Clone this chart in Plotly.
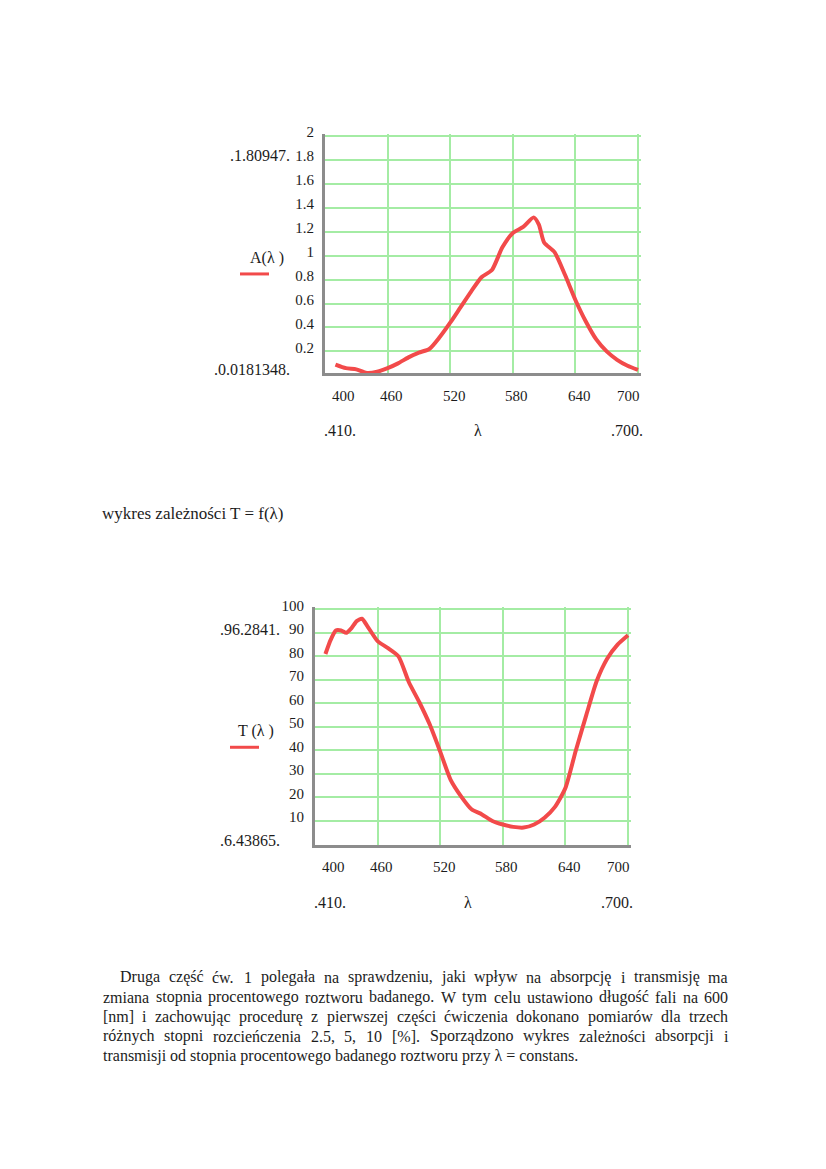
"""
Scanned report page: two Mathcad-style spectra (absorbance and transmission)
with a heading and a paragraph of Polish text.
"""
import plotly.graph_objects as go

PAGE_W, PAGE_H = 826, 1169

# ── Data ────────────────────────────────────────────────────────────────────
WL_A = [410, 420, 430, 440, 450, 460, 470, 480, 490, 500, 510, 520, 530, 540,
        550, 560, 570, 580, 590, 600, 605, 610, 620, 630, 640, 650, 660, 670,
        680, 690, 700]
A_VALUES = [0.09, 0.06, 0.05, 0.02, 0.03, 0.06, 0.10, 0.15, 0.19, 0.22, 0.32,
            0.44, 0.57, 0.70, 0.82, 0.88, 1.07, 1.19, 1.24, 1.32, 1.26, 1.11,
            1.03, 0.84, 0.63, 0.45, 0.30, 0.20, 0.13, 0.08, 0.045]

WL_T = [410, 415, 420, 425, 430, 435, 440, 445, 450, 460, 470, 480, 490, 500,
        510, 520, 530, 540, 550, 560, 570, 580, 590, 600, 610, 620, 630, 640,
        650, 660, 670, 680, 690, 700]
T_VALUES = [81, 87, 91, 91, 90, 92, 95, 96, 93, 86.5, 83.5, 80, 69, 60.5, 51,
            39.5, 27.5, 20.5, 15, 12.8, 10, 8.5, 7.5, 7.2, 8.5, 11.4, 16, 24,
            40, 55, 69.5, 79, 85, 89]

X_TICKS = [400, 460, 520, 580, 640, 700]
A_TICKS = [0.2, 0.4, 0.6, 0.8, 1.0, 1.2, 1.4, 1.6, 1.8, 2.0]
A_TICK_TEXT = ["0.2", "0.4", "0.6", "0.8", "1", "1.2", "1.4", "1.6", "1.8", "2"]
T_TICKS = [10, 20, 30, 40, 50, 60, 70, 80, 90, 100]
T_TICK_TEXT = ["10", "20", "30", "40", "50", "60", "70", "80", "90", "100"]

X_RANGE = [400, 700]
A_RANGE = [0.0181348, 2.0]
T_RANGE = [0, 100]

A_LIMITS = [".1.80947.", ".0.0181348."]
T_LIMITS = [".96.2841.", ".6.43865."]
X_LIMITS = [".410.", "λ", ".700."]

HEADING = "wykres zależności T = f(λ)"
PARAGRAPH = [
    "Druga część ćw. 1 polegała na sprawdzeniu, jaki wpływ na absorpcję i transmisję ma",
    "zmiana stopnia procentowego roztworu badanego. W tym celu ustawiono długość fali na 600",
    "[nm] i zachowując procedurę z pierwszej części ćwiczenia dokonano pomiarów dla trzech",
    "różnych stopni rozcieńczenia 2.5, 5, 10 [%]. Sporządzono wykres zależności absorpcji i",
    "transmisji od stopnia procentowego badanego roztworu przy λ = constans.",
]

# ── Style ───────────────────────────────────────────────────────────────────
CURVE = "#f24a4a"
GRID = "#a4eca4"
AXIS = "#8c8c8c"
INK = "#1c1c1c"
FONT = "Liberation Serif"
BODY_SIZE = 16
EDGE_PAD = 0.01   # fraction of the span added past the last grid line so it is drawn

# rough Times / Liberation Serif advance widths (em) used to justify text
_NARROW = {"i": .278, "j": .278, "l": .278, "t": .278, "ł": .278, "f": .333,
           "r": .333, "s": .389, "ś": .389, ".": .25, ",": .25, "[": .333,
           "]": .333, "(": .333, ")": .333, "a": .444, "c": .444, "e": .444,
           "z": .444, "ą": .444, "ć": .444, "ę": .444, "ż": .444, "ź": .444,
           "m": .778, "w": .722, "%": .833, "=": .564, "D": .722, "W": .944,
           "S": .556, "T": .611}


def text_width(s, size):
    return sum(_NARROW.get(c, 0.5) for c in s) * size


def px(x):
    return x / PAGE_W


def py(y):
    return 1 - y / PAGE_H


def padded(rng):
    return [rng[0], rng[1] + (rng[1] - rng[0]) * EDGE_PAD]


def add_chart(fig, n, wl, vals, yticks, ytext, yrange, box, label, limits):
    """box = (left, top, right, bottom) in page pixels (grid frame)."""
    left, top, right, bottom = box
    # stretch the domain so the padded range keeps the frame on the box
    right_d = left + (right - left) * (1 + EDGE_PAD)
    top_d = bottom - (bottom - top) * (1 + EDGE_PAD)
    sfx = "" if n == 1 else str(n)
    xa, ya = "x" + sfx, "y" + sfx

    fig.add_trace(go.Scatter(
        x=wl, y=vals, mode="lines", xaxis=xa, yaxis=ya,
        line=dict(color=CURVE, width=4, shape="spline", smoothing=0.6),
        showlegend=False, hoverinfo="x+y",
    ))

    common = dict(showgrid=True, gridcolor=GRID, gridwidth=2, zeroline=False,
                  showline=True, linecolor=AXIS, linewidth=3, ticks="")
    fig.update_layout(**{
        "xaxis" + sfx: dict(
            common, domain=[px(left), px(right_d)], anchor=ya,
            range=padded(X_RANGE), tickvals=X_TICKS, showticklabels=False,
        ),
        "yaxis" + sfx: dict(
            common, domain=[py(bottom), py(top_d)], anchor=xa,
            range=padded(yrange), tickvals=yticks, ticktext=ytext,
            tickfont=dict(family=FONT, size=15, color=INK),
            ticklabelstandoff=5, ticklabelshift=-4,
        ),
    })

    def note(x, y, text, size, anchor="right", **kw):
        fig.add_annotation(xref=kw.pop("xref", "paper"), yref="paper", x=x,
                           y=y, text=text, showarrow=False, xanchor=anchor,
                           yanchor="middle",
                           font=dict(family=FONT, size=size, color=INK), **kw)

    # axis-limit markers and trace label on the left
    note(px(left - 33), py(top + 20), limits[0], 16)
    note(px(left - 33), py(bottom - 4), limits[1], 16)
    note(px(left - 39), py(top + 123), label, 16)
    fig.add_shape(type="line", xref="paper", yref="paper",
                  x0=px(left - 85), x1=px(left - 56),
                  y0=py(top + 139), y1=py(top + 139),
                  line=dict(color=CURVE, width=3))

    # x tick labels (edge labels pulled inside as in Mathcad)
    for v in X_TICKS:
        shift = 18 if v == X_TICKS[0] else (-10 if v == X_TICKS[-1] else 4)
        note(v, py(bottom + 23), str(v), 15, anchor="center", xref=xa,
             xshift=shift)

    # x limit row
    centre = (left + right) / 2
    for xp, txt in zip([left + 15, centre - 4, right - 11], X_LIMITS):
        note(px(xp), py(bottom + 58), txt, 16, anchor="center")


def add_line(fig, text, x0, x1, y, justify):
    font = dict(family=FONT, size=BODY_SIZE, color=INK)
    words = text.split(" ")
    if not justify or len(words) < 2:
        fig.add_annotation(xref="paper", yref="paper", x=px(x0), y=py(y),
                           xanchor="left", yanchor="middle", showarrow=False,
                           text=text, font=font)
        return
    widths = [text_width(w, BODY_SIZE) for w in words]
    gap = (x1 - x0 - sum(widths)) / (len(words) - 1)
    x = x0
    for w, wd in zip(words, widths):
        fig.add_annotation(xref="paper", yref="paper", x=px(x), y=py(y),
                           xanchor="left", yanchor="middle", showarrow=False,
                           text=w, font=font)
        x += wd + gap


fig = go.Figure()
add_chart(fig, 1, WL_A, A_VALUES, A_TICKS, A_TICK_TEXT, A_RANGE,
          (325, 128, 638, 367), "A(λ )", A_LIMITS)
add_chart(fig, 2, WL_T, T_VALUES, T_TICKS, T_TICK_TEXT, T_RANGE,
          (315, 605, 628, 842), "T (λ )", T_LIMITS)

# ── Page text ───────────────────────────────────────────────────────────────
fig.add_annotation(xref="paper", yref="paper", x=px(100), y=py(508),
                   xanchor="left", yanchor="middle", showarrow=False,
                   text=HEADING, font=dict(family=FONT, size=17, color=INK))

for i, line in enumerate(PARAGRAPH):
    add_line(fig, line, 118 if i == 0 else 101, 726, 976 + i * 19.7,
             justify=i < len(PARAGRAPH) - 1)

fig.update_layout(
    width=PAGE_W, height=PAGE_H,
    margin=dict(l=0, r=0, t=0, b=0),
    paper_bgcolor="white", plot_bgcolor="white",
    showlegend=False,
)

fig.write_html("out.html", config={"displayModeBar": False},
               post_script="document.body.style.margin = '0';")
